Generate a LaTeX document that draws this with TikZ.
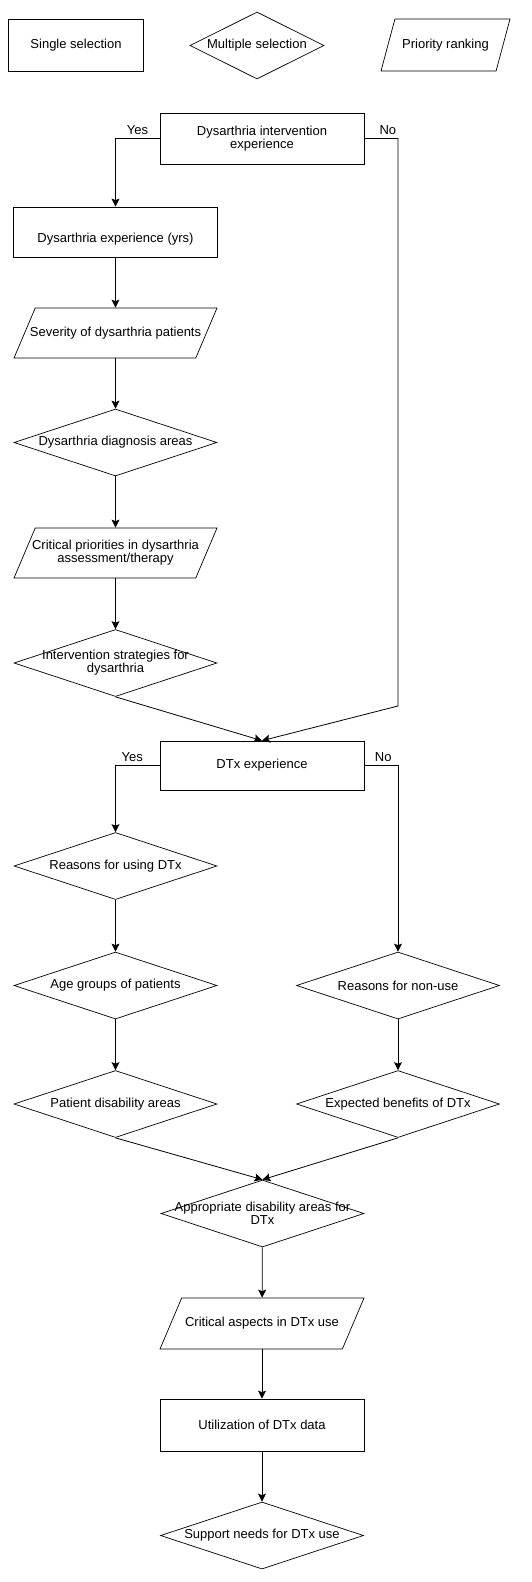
\documentclass[tikz,border=0pt]{standalone}
\usepackage{fontspec}
\setmainfont{Liberation Sans}
\usepackage{tikz}
\usetikzlibrary{arrows.meta,shapes.geometric}

\begin{document}
\begin{tikzpicture}[
  x=1pt, y=-1pt,
  font=\fontsize{13}{13}\selectfont, >={Stealth[length=8pt,width=8pt,inset=1.5pt]},
  single/.style={draw, line width=0.7pt, rectangle, align=center, minimum width=204pt, minimum height=51pt, inner sep=2pt},
  multi/.style={draw, line width=0.7pt, diamond, minimum width=203pt, minimum height=67pt, inner sep=0pt, label={[align=center]center:#1}},
  prio/.style={draw, line width=0.7pt, trapezium, trapezium left angle=67, trapezium right angle=113, trapezium stretches body=true, minimum width=203pt, inner xsep=0pt, inner ysep=25pt, label={[align=center]center:#1}},
  flow/.style={->, line width=0.8pt},
  ans/.style={above, inner sep=3pt}
]
  \useasboundingbox (0,0) rectangle (532,1582);
  \node[single, minimum width=135pt, minimum height=52pt] (lgsingle) at (76,45) {Single selection};
  \node[multi={Multiple selection}, minimum width=134pt, minimum height=67pt] (lgmulti) at (257,45.5) {};
  \node[prio={Priority ranking}, trapezium left angle=75, trapezium right angle=105, minimum width=129pt, inner ysep=26pt] (lgprio) at (445.5,45) {};
  \node[single] (dint) at (262,138.5) {Dysarthria intervention\\experience};
  \node[single, minimum height=50pt] (dexp) at (115.5,232) {\strut\\Dysarthria experience (yrs)};
  \node[prio={Severity of dysarthria patients}] (sev) at (115.5,333) {};
  \node[multi={Dysarthria diagnosis areas}] (diag) at (115.5,442.5) {};
  \node[prio={Critical priorities in dysarthria\\assessment/therapy}] (crit) at (115.5,553) {};
  \node[multi={Intervention strategies for\\dysarthria}] (strat) at (115.5,663) {};
  \coordinate (nobend) at (398,706);
  \node[single, minimum height=49pt] (dtx) at (262,765.5) {DTx experience};
  \node[multi={Reasons for using DTx}] (why) at (115.5,866) {};
  \node[multi={Age groups of patients}] (age) at (115.5,985.5) {};
  \node[multi={Patient disability areas}] (dis) at (115.5,1104) {};
  \node[multi={Reasons for non-use}] (whynot) at (398,985.5) {};
  \node[multi={Expected benefits of DTx}] (benef) at (398,1104) {};
  \node[multi={Appropriate disability areas for\\DTx}] (appr) at (262.5,1213.5) {};
  \node[prio={Critical aspects in DTx use}, minimum width=204pt, inner ysep=25.5pt] (asp) at (262,1323.5) {};
  \node[single, minimum height=52pt] (util) at (262,1425) {Utilization of DTx data};
  \node[multi={Support needs for DTx use}] (supp) at (262,1535.5) {};
  \draw[flow] (dint.west) -| node[ans, pos=0.25] {Yes} (dexp.north);
  \draw[flow] (dint.east) -| node[ans, pos=0.35] {No} (nobend) -- (dtx.north);
  \draw[flow] (dexp) -- (sev);
  \draw[flow] (sev) -- (diag);
  \draw[flow] (diag) -- (crit);
  \draw[flow] (crit) -- (strat);
  \draw[flow] (strat.south) -- (dtx.north);
  \draw[flow] (dtx.west) -| node[ans, pos=0.31] {Yes} (why.north);
  \draw[flow] (dtx.east) -| node[ans, pos=0.28] {No} (whynot.north);
  \draw[flow] (why) -- (age);
  \draw[flow] (age) -- (dis);
  \draw[flow] (whynot) -- (benef);
  \draw[flow] (dis.south) -- (appr.north);
  \draw[flow] (benef.south) -- (appr.north);
  \draw[flow] (appr) -- (asp);
  \draw[flow] (asp) -- (util);
  \draw[flow] (util) -- (supp);
\end{tikzpicture}
\end{document}
